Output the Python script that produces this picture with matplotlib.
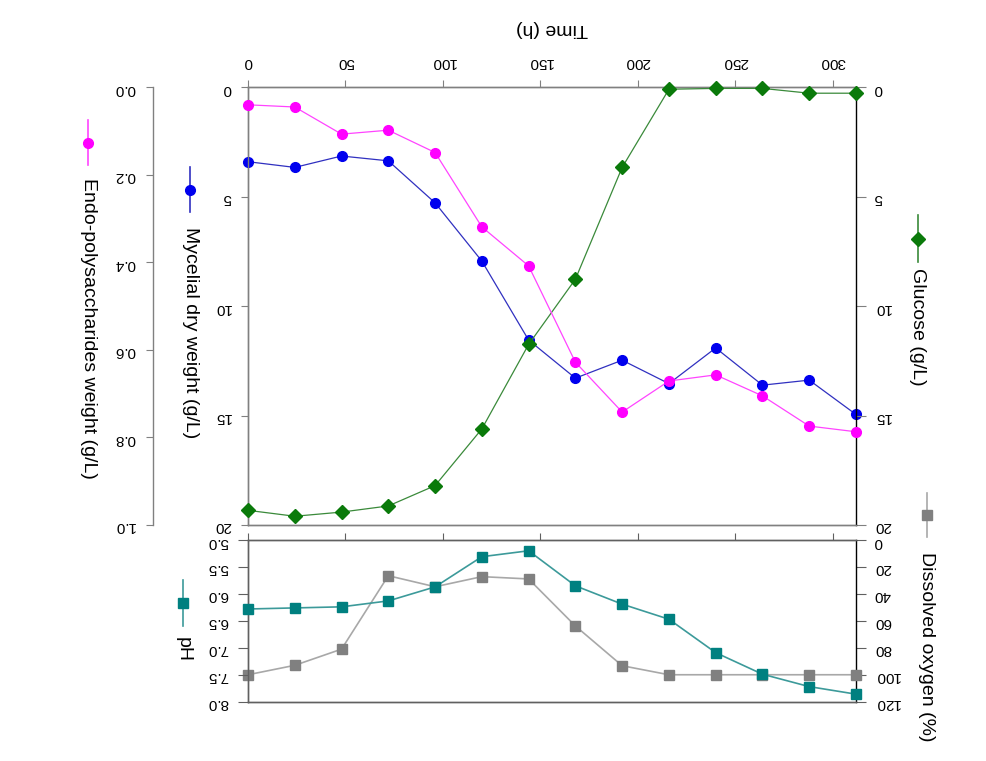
import matplotlib
matplotlib.use("Agg")
import matplotlib.pyplot as plt
from matplotlib.lines import Line2D

plt.rcParams['font.family'] = ['Liberation Sans', 'DejaVu Sans']

# donnees (image retournee verticalement)
time_h = [0, 24, 48, 72, 96, 120, 144, 168, 192, 216, 240, 264, 288, 312]
endo = [0.040, 0.045, 0.107, 0.098, 0.149, 0.319, 0.408, 0.628, 0.742, 0.671, 0.657, 0.705, 0.774, 0.787]
mycelial = [3.40, 3.66, 3.14, 3.36, 5.28, 7.94, 11.55, 13.29, 12.47, 13.54, 11.91, 13.61, 13.38, 14.95]
glucose = [19.33, 19.60, 19.41, 19.13, 18.20, 15.61, 11.75, 8.77, 3.66, 0.09, 0.05, 0.05, 0.27, 0.27]
ph = [6.28, 6.26, 6.24, 6.13, 5.87, 5.31, 5.20, 5.85, 6.19, 6.47, 7.09, 7.49, 7.72, 7.86]
oxygen = [100, 93, 81, 26.5, 34.7, 27.2, 28.9, 63.8, 93.3, 100, 100, 100, 100, 100]

time_ticks = [0, 50, 100, 150, 200, 250, 300]
mass_ticks = [0, 5, 10, 15, 20]
endo_ticks = [0.0, 0.2, 0.4, 0.6, 0.8, 1.0]
ph_ticks = [5.0, 5.5, 6.0, 6.5, 7.0, 7.5, 8.0]
oxy_ticks = [0, 20, 40, 60, 80, 100, 120]

W, H = 987, 761
GRAY = '#808080'
TICK_FS = 11
LAB_FS = 14


def fx(px):
    return px / W


def fy(py):
    return 1 - py / H


def style_axis(a, color=GRAY):
    for s in a.spines.values():
        s.set_color(color)
        s.set_linewidth(1.0)
    a.tick_params(colors='black', labelsize=TICK_FS, labelrotation=180)
    a.tick_params(axis='both', color=color)


fig = plt.figure(figsize=(W / 100, H / 100), dpi=100)

# panneau principal
ax = fig.add_axes([fx(248), fy(525), fx(856) - fx(248), (525 - 87.3) / H])
ax.set_xlim(0, 312)
ax.set_ylim(20, 0)
ax.xaxis.tick_top()
ax.set_xticks(time_ticks)
ax.set_xticklabels([str(t) for t in time_ticks])
ax.set_yticks(mass_ticks)
ax.set_yticklabels([str(v) for v in mass_ticks])
style_axis(ax)
ax.spines['right'].set_visible(False)
ax.tick_params(axis='x', length=5, pad=8)
ax.tick_params(axis='y', length=5, pad=7)

ax2 = ax.twinx()
ax2.set_ylim(20, 0)
ax2.set_yticks(mass_ticks)
ax2.set_yticklabels([str(v) for v in mass_ticks])
style_axis(ax2)
ax2.spines['right'].set_color('black')
ax2.tick_params(axis='y', length=7, pad=6)

ax3 = ax.twinx()
ax3.set_ylim(1.0, 0.0)
ax3.spines['left'].set_position(('outward', 95 * 0.72))
ax3.spines['left'].set_visible(True)
for s in ['right', 'top', 'bottom']:
    ax3.spines[s].set_visible(False)
ax3.yaxis.set_ticks_position('left')
ax3.set_yticks(endo_ticks)
ax3.set_yticklabels([f"{v:.1f}" for v in endo_ticks])
style_axis(ax3)
ax3.spines['right'].set_visible(False)
ax3.tick_params(axis='y', length=5, pad=8)

ax3.plot(time_h, endo, color='#ff44ff', lw=0.9, marker='o', ms=7,
         mfc='#ff00ff', mec='#ff00ff', clip_on=False, zorder=3)
ax.plot(time_h, mycelial, color='#3030c0', lw=0.9, marker='o', ms=7,
        mfc='#0000ee', mec='#0000ee', clip_on=False, zorder=3)
ax2.plot(time_h, glucose, color='#3a8a3a', lw=0.9, marker='D', ms=7,
         mfc='#0a7a0a', mec='#0a7a0a', clip_on=False, zorder=3)

# panneau pH / oxygene dissous
axp = fig.add_axes([fx(248), fy(701.7), fx(856) - fx(248), (701.7 - 540) / H])
axp.set_xlim(0, 312)
axp.set_ylim(8.0, 5.0)
axp.xaxis.tick_top()
axp.set_xticks(time_ticks)
axp.set_xticklabels([])
axp.set_yticks(ph_ticks)
axp.set_yticklabels([f"{v:.1f}" for v in ph_ticks])
style_axis(axp, '#606060')
axp.spines['right'].set_visible(False)
axp.tick_params(axis='x', length=5)
axp.tick_params(axis='y', length=7, pad=7)

axo = axp.twinx()
axo.set_ylim(120, 0)
axo.set_yticks(oxy_ticks)
axo.set_yticklabels([str(v) for v in oxy_ticks])
style_axis(axo, '#606060')
axo.spines['right'].set_color('black')
axo.tick_params(axis='y', length=7, pad=6)

axo.plot(time_h, oxygen, color='#a8a8a8', lw=1.2, marker='s', ms=7,
         mfc=GRAY, mec=GRAY, clip_on=False, zorder=3)
axp.plot(time_h, ph, color='#3c9a9a', lw=1.2, marker='s', ms=7,
         mfc='#008080', mec='#008080', clip_on=False, zorder=3)
axp.set_zorder(axo.get_zorder() + 1)
axp.patch.set_visible(False)

# titres d'axes (retournes comme la figure)
fig.text(fx(552), fy(29), 'Time (h)', rotation=180, ha='center', va='center', fontsize=LAB_FS)

labels = [
    # texte, x, debut texte, ligne y1, y2, marqueur, couleur ligne, couleur marqueur
    ('Endo-polysaccharides weight (g/L)', 88, 178, 120, 165, 'o', '#ff44ff', '#ff00ff'),
    ('Mycelial dry weight (g/L)', 190, 227, 167, 212, 'o', '#3030c0', '#0000ee'),
    ('Glucose (g/L)', 918, 268, 215, 262, 'D', '#3a8a3a', '#0a7a0a'),
    ('pH', 183, 637, 580, 626, 's', '#3c9a9a', '#008080'),
    ('Dissolved oxygen (%)', 927, 552, 493, 537, 's', '#a8a8a8', GRAY),
]
for txt, x, y0, l1, l2, mk, lc, mc in labels:
    fig.text(fx(x), fy(y0), txt, rotation=270, ha='center', va='top', fontsize=LAB_FS)
    fig.add_artist(Line2D([fx(x), fx(x)], [fy(l1), fy(l2)], color=lc, lw=1.2,
                          transform=fig.transFigure))
    fig.add_artist(Line2D([fx(x)], [fy((l1 + l2) / 2)], marker=mk, ms=7, mfc=mc, mec=mc,
                          transform=fig.transFigure))

fig.savefig('out.png', dpi=100)
